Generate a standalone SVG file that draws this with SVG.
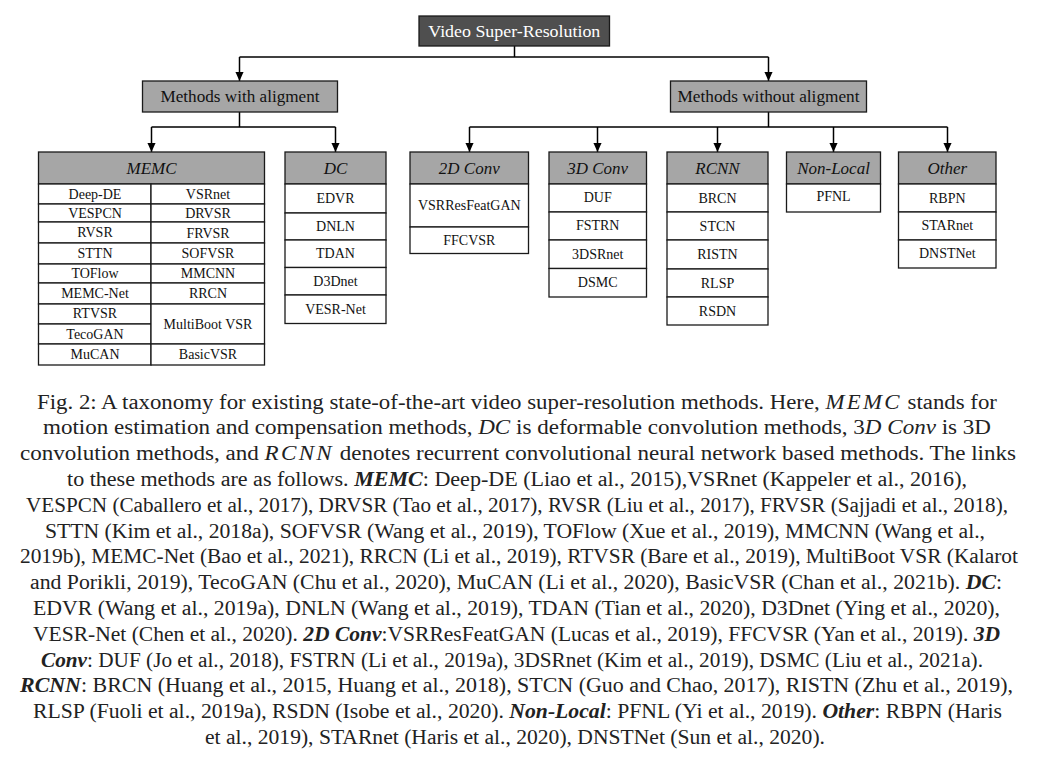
<svg xmlns="http://www.w3.org/2000/svg" width="1038" height="759" viewBox="0 0 1038 759">
<defs>
<marker id="arr" viewBox="0 0 10 10" refX="10" refY="5" markerWidth="9" markerHeight="9" markerUnits="userSpaceOnUse" orient="auto">
<path d="M0,0.5 L10,5 L0,9.5 z" fill="#000"/>
</marker>
<style>
.bx{fill:#fff;stroke:#1a1a1a;stroke-width:1.3}
.hd{fill:#a6a6a6;stroke:#1a1a1a;stroke-width:1.3}
.dk{fill:#4f4f4f;stroke:#1a1a1a;stroke-width:1.3}
.t{font-family:"Liberation Serif","Times New Roman",serif;font-size:14px;fill:#111;text-anchor:middle}
.h{font-family:"Liberation Serif","Times New Roman",serif;font-size:17px;font-style:italic;fill:#111;text-anchor:middle}
.m{font-family:"Liberation Serif","Times New Roman",serif;font-size:17px;fill:#111;text-anchor:middle}
.w{fill:#fff}
.con{fill:none;stroke:#000;stroke-width:1.5}
.cap{font-family:"Liberation Serif","Times New Roman",serif;font-size:20px;fill:#222;text-anchor:middle}
.i{font-style:italic}
.bi{font-style:italic;font-weight:bold}
</style>
</defs>
<rect width="1038" height="759" fill="#fff"/>

<g id="connectors">
<path class="con" d="M514.5,46 V57"/>
<path class="con" d="M239.5,57 H768.5"/>
<path class="con" d="M239.5,57 V81" marker-end="url(#arr)"/>
<path class="con" d="M768.5,57 V81" marker-end="url(#arr)"/>
<path class="con" d="M239.5,112 V127 M151.5,127 H335.5"/>
<path class="con" d="M151.5,127 V152" marker-end="url(#arr)"/>
<path class="con" d="M335.5,127 V152" marker-end="url(#arr)"/>
<path class="con" d="M768.5,112 V127 M469.5,127 H947.5"/>
<path class="con" d="M469.5,127 V152" marker-end="url(#arr)"/>
<path class="con" d="M597.5,127 V152" marker-end="url(#arr)"/>
<path class="con" d="M717.5,127 V152" marker-end="url(#arr)"/>
<path class="con" d="M833.5,127 V152" marker-end="url(#arr)"/>
<path class="con" d="M947.5,127 V152" marker-end="url(#arr)"/>
</g>

<g id="vsr">
<rect class="dk" x="419" y="16" width="190.5" height="30"/>
<text class="m w" x="514.3" y="37" textLength="172" lengthAdjust="spacingAndGlyphs">Video Super-Resolution</text>
</g>
<g id="with-align">
<rect class="hd" x="142.5" y="81" width="195" height="31"/>
<text class="m" x="240" y="102" textLength="159" lengthAdjust="spacingAndGlyphs">Methods with aligment</text>
</g>
<g id="without-align">
<rect class="hd" x="670.5" y="81" width="196" height="31"/>
<text class="m" x="768.5" y="102" textLength="182" lengthAdjust="spacingAndGlyphs">Methods without aligment</text>
</g>

<g id="memc">
<rect class="hd" x="38.5" y="152" width="226" height="32"/>
<text class="h" x="151.5" y="174">MEMC</text>
<rect class="bx" x="38.5" y="184" width="112.5" height="20"/>
<rect class="bx" x="38.5" y="204" width="112.5" height="18"/>
<rect class="bx" x="38.5" y="222" width="112.5" height="21"/>
<rect class="bx" x="38.5" y="243" width="112.5" height="21"/>
<rect class="bx" x="38.5" y="264" width="112.5" height="19"/>
<rect class="bx" x="38.5" y="283" width="112.5" height="21"/>
<rect class="bx" x="38.5" y="304" width="112.5" height="20"/>
<rect class="bx" x="38.5" y="324" width="112.5" height="20"/>
<rect class="bx" x="38.5" y="344" width="112.5" height="21"/>
<rect class="bx" x="151" y="184" width="113.5" height="20"/>
<rect class="bx" x="151" y="204" width="113.5" height="18"/>
<rect class="bx" x="151" y="222" width="113.5" height="21"/>
<rect class="bx" x="151" y="243" width="113.5" height="21"/>
<rect class="bx" x="151" y="264" width="113.5" height="19"/>
<rect class="bx" x="151" y="283" width="113.5" height="21"/>
<rect class="bx" x="151" y="304" width="113.5" height="40"/>
<rect class="bx" x="151" y="344" width="113.5" height="21"/>
<text class="t" x="95" y="199">Deep-DE</text>
<text class="t" x="95" y="218">VESPCN</text>
<text class="t" x="95" y="237">RVSR</text>
<text class="t" x="95" y="258">STTN</text>
<text class="t" x="95" y="278">TOFlow</text>
<text class="t" x="95" y="298">MEMC-Net</text>
<text class="t" x="95" y="318">RTVSR</text>
<text class="t" x="95" y="339">TecoGAN</text>
<text class="t" x="95" y="359">MuCAN</text>
<text class="t" x="208" y="199">VSRnet</text>
<text class="t" x="208" y="218">DRVSR</text>
<text class="t" x="208" y="238">FRVSR</text>
<text class="t" x="208" y="258">SOFVSR</text>
<text class="t" x="208" y="278">MMCNN</text>
<text class="t" x="208" y="298">RRCN</text>
<text class="t" x="208" y="329">MultiBoot VSR</text>
<text class="t" x="208" y="359">BasicVSR</text>
</g>

<g id="dc">
<rect class="hd" x="285" y="152" width="101" height="32"/>
<text class="h" x="335.5" y="174">DC</text>
<rect class="bx" x="285" y="184" width="101" height="29"/>
<rect class="bx" x="285" y="213" width="101" height="27"/>
<rect class="bx" x="285" y="240" width="101" height="27.5"/>
<rect class="bx" x="285" y="267.5" width="101" height="27.5"/>
<rect class="bx" x="285" y="295" width="101" height="28.5"/>
<text class="t" x="335.5" y="203">EDVR</text>
<text class="t" x="335.5" y="231">DNLN</text>
<text class="t" x="335.5" y="258">TDAN</text>
<text class="t" x="335.5" y="286">D3Dnet</text>
<text class="t" x="335.5" y="314">VESR-Net</text>
</g>

<g id="conv2d">
<rect class="hd" x="410" y="152" width="118.5" height="32"/>
<text class="h" x="469.3" y="174">2D Conv</text>
<rect class="bx" x="410" y="184" width="118.5" height="43"/>
<rect class="bx" x="410" y="227" width="118.5" height="26.5"/>
<text class="t" x="469.3" y="210">VSRResFeatGAN</text>
<text class="t" x="469.3" y="245">FFCVSR</text>
</g>

<g id="conv3d">
<rect class="hd" x="549" y="152" width="97.5" height="32"/>
<text class="h" x="597.7" y="174">3D Conv</text>
<rect class="bx" x="549" y="184" width="97.5" height="28"/>
<rect class="bx" x="549" y="212" width="97.5" height="28"/>
<rect class="bx" x="549" y="240" width="97.5" height="28.5"/>
<rect class="bx" x="549" y="268.5" width="97.5" height="28.5"/>
<text class="t" x="597.7" y="202">DUF</text>
<text class="t" x="597.7" y="230">FSTRN</text>
<text class="t" x="597.7" y="259">3DSRnet</text>
<text class="t" x="597.7" y="287">DSMC</text>
</g>

<g id="rcnn">
<rect class="hd" x="667" y="152" width="101" height="32"/>
<text class="h" x="717.5" y="174">RCNN</text>
<rect class="bx" x="667" y="184" width="101" height="28"/>
<rect class="bx" x="667" y="212" width="101" height="28"/>
<rect class="bx" x="667" y="240" width="101" height="29"/>
<rect class="bx" x="667" y="269" width="101" height="28"/>
<rect class="bx" x="667" y="297" width="101" height="28"/>
<text class="t" x="717.5" y="203">BRCN</text>
<text class="t" x="717.5" y="231">STCN</text>
<text class="t" x="717.5" y="259">RISTN</text>
<text class="t" x="717.5" y="288">RLSP</text>
<text class="t" x="717.5" y="316">RSDN</text>
</g>

<g id="nonlocal">
<rect class="hd" x="786.5" y="152" width="94" height="32"/>
<text class="h" x="833.5" y="174">Non-Local</text>
<rect class="bx" x="786.5" y="184" width="94" height="28"/>
<text class="t" x="833.5" y="201">PFNL</text>
</g>

<g id="other">
<rect class="hd" x="898.5" y="152" width="97.5" height="32"/>
<text class="h" x="947.3" y="174">Other</text>
<rect class="bx" x="898.5" y="184" width="97.5" height="28"/>
<rect class="bx" x="898.5" y="212" width="97.5" height="28"/>
<rect class="bx" x="898.5" y="240" width="97.5" height="28"/>
<text class="t" x="947.3" y="203">RBPN</text>
<text class="t" x="947.3" y="230">STARnet</text>
<text class="t" x="947.3" y="258" font-size="13">DNSTNet</text>
</g>

<g id="caption">
<text class="cap" x="517" y="408.5" textLength="960" lengthAdjust="spacingAndGlyphs">Fig. 2: A taxonomy for existing state-of-the-art video super-resolution methods. Here, <tspan class="i" letter-spacing="2">MEMC</tspan> stands for</text>
<text class="cap" x="517" y="434.3" textLength="948" lengthAdjust="spacingAndGlyphs">motion estimation and compensation methods, <tspan class="i">DC</tspan> is deformable convolution methods, 3<tspan class="i">D Conv</tspan> is 3D</text>
<text class="cap" x="518" y="460.1" textLength="996" lengthAdjust="spacingAndGlyphs">convolution methods, and <tspan class="i" letter-spacing="2">RCNN</tspan> denotes recurrent convolutional neural network based methods. The links</text>
<text class="cap" x="517" y="485.9" textLength="900" lengthAdjust="spacingAndGlyphs">to these methods are as follows. <tspan class="bi">MEMC</tspan>: Deep-DE (Liao et al., 2015),VSRnet (Kappeler et al., 2016),</text>
<text class="cap" x="517" y="511.7" textLength="982" lengthAdjust="spacingAndGlyphs">VESPCN (Caballero et al., 2017), DRVSR (Tao et al., 2017), RVSR (Liu et al., 2017), FRVSR (Sajjadi et al., 2018),</text>
<text class="cap" x="515" y="537.5" textLength="940" lengthAdjust="spacingAndGlyphs">STTN (Kim et al., 2018a), SOFVSR (Wang et al., 2019), TOFlow (Xue et al., 2019), MMCNN (Wang et al.,</text>
<text class="cap" x="519" y="563.3" textLength="998" lengthAdjust="spacingAndGlyphs">2019b), MEMC-Net (Bao et al., 2021), RRCN (Li et al., 2019), RTVSR (Bare et al., 2019), MultiBoot VSR (Kalarot</text>
<text class="cap" x="516" y="589.1" textLength="972" lengthAdjust="spacingAndGlyphs">and Porikli, 2019), TecoGAN (Chu et al., 2020), MuCAN (Li et al., 2020), BasicVSR (Chan et al., 2021b). <tspan class="bi">DC</tspan>:</text>
<text class="cap" x="516.5" y="614.9" textLength="967" lengthAdjust="spacingAndGlyphs">EDVR (Wang et al., 2019a), DNLN (Wang et al., 2019), TDAN (Tian et al., 2020), D3Dnet (Ying et al., 2020),</text>
<text class="cap" x="516.5" y="640.7" textLength="967" lengthAdjust="spacingAndGlyphs">VESR-Net (Chen et al., 2020). <tspan class="bi">2D Conv</tspan>:VSRResFeatGAN (Lucas et al., 2019), FFCVSR (Yan et al., 2019). <tspan class="bi">3D</tspan></text>
<text class="cap" x="512" y="666.5" textLength="942" lengthAdjust="spacingAndGlyphs"><tspan class="bi">Conv</tspan>: DUF (Jo et al., 2018), FSTRN (Li et al., 2019a), 3DSRnet (Kim et al., 2019), DSMC (Liu et al., 2021a).</text>
<text class="cap" x="516.5" y="692.3" textLength="993" lengthAdjust="spacingAndGlyphs"><tspan class="bi">RCNN</tspan>: BRCN (Huang et al., 2015, Huang et al., 2018), STCN (Guo and Chao, 2017), RISTN (Zhu et al., 2019),</text>
<text class="cap" x="517.5" y="718.1" textLength="969" lengthAdjust="spacingAndGlyphs">RLSP (Fuoli et al., 2019a), RSDN (Isobe et al., 2020). <tspan class="bi">Non-Local</tspan>: PFNL (Yi et al., 2019). <tspan class="bi">Other</tspan>: RBPN (Haris</text>
<text class="cap" x="515" y="743.9" textLength="620" lengthAdjust="spacingAndGlyphs">et al., 2019), STARnet (Haris et al., 2020), DNSTNet (Sun et al., 2020).</text>
</g>
</svg>
